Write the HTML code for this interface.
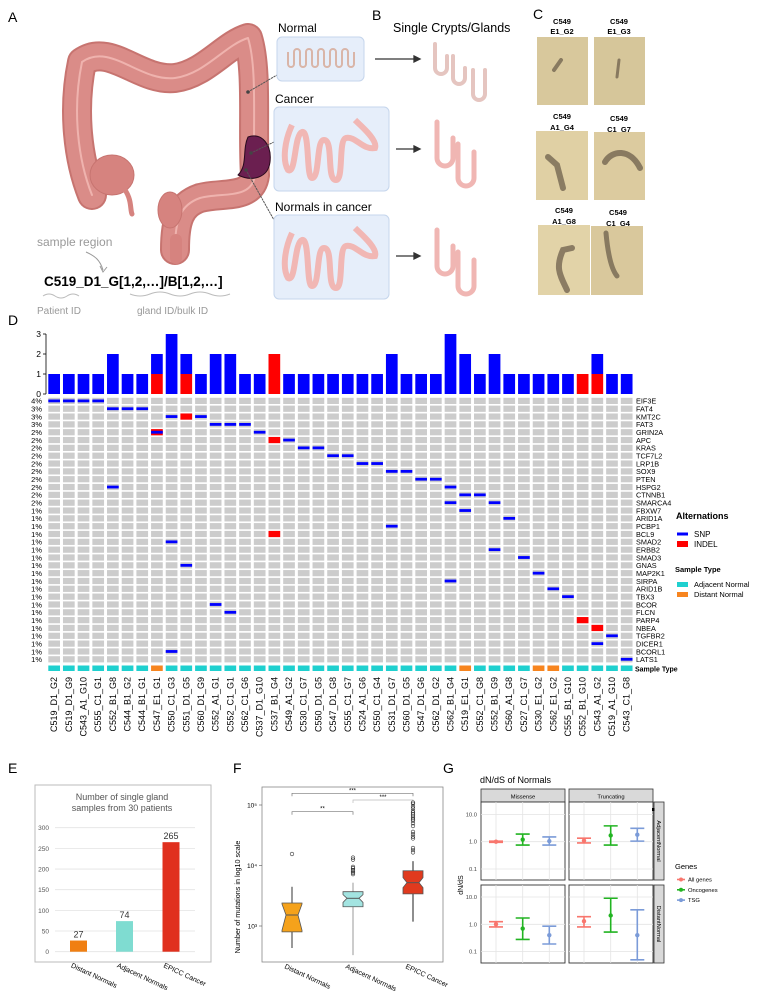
<!DOCTYPE html>
<html><head><meta charset="utf-8">
<style>
html,body{margin:0;padding:0;background:#fff;}
svg{display:block;font-family:"Liberation Sans",sans-serif;}
</style></head>
<body>
<svg id="fig" width="759" height="1000" viewBox="0 0 759 1000" xmlns="http://www.w3.org/2000/svg">
<!-- Panel labels -->
<text x="8" y="22" font-size="14">A</text>
<text x="372" y="20" font-size="14">B</text>
<text x="533" y="19" font-size="14">C</text>
<text x="8" y="325" font-size="14">D</text>
<text x="8" y="773" font-size="14">E</text>
<text x="233" y="773" font-size="14">F</text>
<text x="443" y="773" font-size="14">G</text>

<!-- Panel A: colon illustration -->
<g fill="none" stroke-linecap="round" stroke-linejoin="round">
  <path d="M92 195 C78 160 72 110 82 62 C110 42 140 82 175 78 C205 74 225 45 248 38 C258 70 252 130 255 175 C252 200 222 192 200 198 C180 205 175 220 175 250" stroke="#c77470" stroke-width="30"/>
  <path d="M92 195 C78 160 72 110 82 62 C110 42 140 82 175 78 C205 74 225 45 248 38 C258 70 252 130 255 175 C252 200 222 192 200 198 C180 205 175 220 175 250" stroke="#da8c88" stroke-width="26"/>
  <path d="M92 195 C78 160 72 110 82 62 C110 42 140 82 175 78 C205 74 225 45 248 38 C258 70 252 130 255 175 C252 200 222 192 200 198 C180 205 175 220 175 250" stroke="#efb3ae" stroke-width="2"/>
  <ellipse cx="112" cy="175" rx="22" ry="20" fill="#d6837f" stroke="#c77470"/>
  <path d="M125 190 C132 200 130 210 132 214" stroke="#d6837f" stroke-width="5"/>
  <ellipse cx="170" cy="210" rx="12" ry="18" fill="#d6837f" stroke="#c77470"/>
  <path d="M176 240 L176 258" stroke="#d6837f" stroke-width="12"/>
  <path d="M248 137 C262 132 272 145 270 162 C268 178 252 182 238 175 C248 165 242 150 248 137 Z" fill="#6b1f50" stroke="#2a0a1e" stroke-width="1"/>
  <path d="M248 92 L277 75" stroke="#555" stroke-dasharray="1.5,1.5"/>
  <circle cx="248" cy="92" r="1.8" fill="#444" stroke="none"/>
  <path d="M251 153 L274 142" stroke="#555" stroke-dasharray="1.5,1.5"/>
  <circle cx="251" cy="153" r="1.8" fill="#444" stroke="none"/>
  <path d="M246 170 L274 220" stroke="#555" stroke-dasharray="1.5,1.5"/>
  <circle cx="246" cy="170" r="1.8" fill="#444" stroke="none"/>
</g>
<text x="37" y="246" font-size="12" fill="#999">sample region</text>
<path d="M86 252 C95 256 100 260 103 270" fill="none" stroke="#999" stroke-width="1"/>
<path d="M100 266 L103 272 L107 267" fill="none" stroke="#999" stroke-width="1"/>
<text x="44" y="286" font-size="13.5" font-weight="bold">C519_D1_G[1,2,…]/B[1,2,…]</text>
<path d="M43 296 q6 -4 12 0 t12 0 t12 0" fill="none" stroke="#bbb"/>
<path d="M130 294 q10 4 20 0 t20 0 t20 0 t20 0 t20 0" fill="none" stroke="#bbb"/>
<text x="37" y="314" font-size="10" fill="#999">Patient ID</text>
<text x="137" y="314" font-size="10" fill="#999">gland ID/bulk ID</text>

<!-- Sample boxes -->
<text x="278" y="32" font-size="12">Normal</text>
<rect x="277" y="37" width="87" height="44" rx="5" fill="#e6eefa" stroke="#c5d5ec"/>
<path d="M288 52 v12 a3 3 0 0 0 6 0 v-12 a3 3 0 0 1 6 0 v12 a3 3 0 0 0 6 0 v-12 a3 3 0 0 1 6 0 v12 a3 3 0 0 0 6 0 v-12 a3 3 0 0 1 6 0 v12 a3 3 0 0 0 6 0 v-12 a3 3 0 0 1 6 0 v12 a3 3 0 0 0 6 0 v-12 a3 3 0 0 1 6 0 v12 a3 3 0 0 0 6 0 v-12" fill="none" stroke="#d9b5a8" stroke-width="2"/>
<text x="275" y="103" font-size="12">Cancer</text>
<rect x="274" y="107" width="115" height="84" rx="5" fill="#e6eefa" stroke="#c5d5ec"/>
<path d="M292 125 C285 140 282 160 288 170 C296 175 294 135 302 132 C310 130 306 178 312 178 C320 178 316 140 324 140 C334 140 326 180 336 180 C344 180 338 140 346 138 C356 136 362 150 375 148 C378 140 360 125 355 120" fill="none" stroke="#f1b7b4" stroke-width="6"/>
<text x="275" y="211" font-size="12">Normals in cancer</text>
<rect x="274" y="215" width="115" height="84" rx="5" fill="#e6eefa" stroke="#c5d5ec"/>
<path d="M292 233 C285 248 282 268 288 278 C296 283 294 243 302 240 C310 238 306 286 312 286 C320 286 316 248 324 248 C334 248 326 288 336 288 C344 288 338 248 346 246 C356 244 362 258 375 256 C378 248 360 233 355 228" fill="none" stroke="#f1b7b4" stroke-width="6"/>

<!-- Panel B -->
<text x="393" y="32" font-size="12.5">Single Crypts/Glands</text>
<g stroke="#333" stroke-width="1.3">
<line x1="375" y1="59" x2="416" y2="59"/><path d="M414 56 L420 59 L414 62Z" fill="#333"/>
<line x1="396" y1="149" x2="416" y2="149"/><path d="M414 146 L420 149 L414 152Z" fill="#333"/>
<line x1="396" y1="256" x2="416" y2="256"/><path d="M414 253 L420 256 L414 259Z" fill="#333"/>
</g>
<g fill="none" stroke-linecap="round">
<path d="M435 44 v24 a6 6 0 0 0 12 0 v-12 M453 56 v22 a6 6 0 0 0 12 0 v-10 M473 70 v24 a6 6 0 0 0 12 0 v-24" stroke="#e5c5c0" stroke-width="4"/>
<path d="M437 122 v36 a8 8 0 0 0 16 0 v-20 M458 144 v34 a8 8 0 0 0 16 0 v-26" stroke="#f0b6b3" stroke-width="5"/>
<path d="M437 230 v36 a8 8 0 0 0 16 0 v-20 M458 252 v34 a8 8 0 0 0 16 0 v-26" stroke="#f0b6b3" stroke-width="5"/>
</g>

<!-- Panel C photos -->
<g font-size="7.5" font-weight="bold" text-anchor="middle">
<text x="562" y="24">C549</text><text x="562" y="34">E1_G2</text>
<text x="619" y="24">C549</text><text x="619" y="34">E1_G3</text>
<text x="562" y="119">C549</text><text x="562" y="130">A1_G4</text>
<text x="619" y="121">C549</text><text x="619" y="132">C1_G7</text>
<text x="564" y="213">C549</text><text x="564" y="224">A1_G8</text>
<text x="618" y="215">C549</text><text x="618" y="226">C1_G4</text>
</g>
<g>
<rect x="537" y="37" width="51" height="68" fill="#d8c89c"/>
<rect x="594" y="37" width="51" height="68" fill="#d6c69a"/>
<rect x="536" y="131" width="52" height="69" fill="#e0d0a4"/>
<rect x="594" y="132" width="51" height="68" fill="#dccb9f"/>
<rect x="538" y="225" width="52" height="70" fill="#e2d3a8"/>
<rect x="591" y="226" width="52" height="69" fill="#d9c89c"/>
<g fill="none" stroke="#6e604c" stroke-linecap="round" opacity="0.75">
<path d="M554 70 L561 60" stroke-width="4"/>
<path d="M619 60 L617 77" stroke-width="3"/>
<path d="M548 157 L557 165 L563 188" stroke-width="6"/>
<path d="M605 162 C612 150 630 148 640 168" stroke-width="6"/>
<path d="M567 290 C560 275 555 268 563 250 L572 248" stroke-width="6"/>
<path d="M606 233 C608 255 612 270 617 276" stroke-width="5"/>
</g>
</g>

<g id="onco"></g>
<g id="panelE"></g>
<g id="panelF"></g>
<g id="panelG"></g>
</svg>

<script>
// ---------- Panel D data ----------
const samples = ["C519_D1_G2","C519_D1_G9","C543_A1_G10","C555_C1_G1","C552_B1_G8","C544_B1_G2","C544_B1_G1","C547_E1_G1","C550_C1_G3","C551_D1_G5","C560_D1_G9","C552_A1_G1","C552_C1_G1","C562_C1_G6","C537_D1_G10","C537_B1_G4","C549_A1_G2","C530_C1_G7","C550_D1_G5","C547_D1_G8","C555_C1_G7","C524_A1_G6","C550_C1_G4","C531_D1_G7","C560_D1_G5","C547_D1_G6","C562_D1_G2","C562_B1_G4","C519_E1_G1","C552_C1_G8","C552_B1_G9","C560_A1_G8","C527_C1_G7","C530_E1_G2","C562_E1_G2","C555_B1_G10","C552_B1_G10","C543_A1_G2","C519_A1_G10","C543_C1_G8"];
const sampleTypes = ["A","A","A","A","A","A","A","D","A","A","A","A","A","A","A","A","A","A","A","A","A","A","A","A","A","A","A","A","D","A","A","A","A","D","D","A","A","A","A","A"];
const genes = ["EIF3E","FAT4","KMT2C","FAT3","GRIN2A","APC","KRAS","TCF7L2","LRP1B","SOX9","PTEN","HSPG2","CTNNB1","SMARCA4","FBXW7","ARID1A","PCBP1","BCL9","SMAD2","ERBB2","SMAD3","GNAS","MAP2K1","SIRPA","ARID1B","TBX3","BCOR","FLCN","PARP4","NBEA","TGFBR2","DICER1","BCORL1","LATS1"];
const genePcts = ["4%","3%","3%","3%","2%","2%","2%","2%","2%","2%","2%","2%","2%","2%","1%","1%","1%","1%","1%","1%","1%","1%","1%","1%","1%","1%","1%","1%","1%","1%","1%","1%","1%","1%"];
const mutSample = [0,1,2,3,4,4,5,6,7,7,8,8,8,9,9,10,11,11,12,12,13,14,15,15,16,17,18,19,20,21,22,23,23,24,25,26,27,27,27,28,28,29,30,30,31,32,33,34,35,36,37,37,38,39];
const mutGene   = [0,0,0,0,1,11,1,1,4,4,2,18,32,2,21,2,3,26,3,27,3,4,5,17,5,6,6,7,7,8,8,9,16,9,10,10,11,13,23,12,14,12,13,19,15,20,22,24,25,28,29,31,30,33];
const mutType   = ["S","S","S","S","S","S","S","S","I","S","S","S","S","I","S","S","S","S","S","S","S","S","I","I","S","S","S","S","S","S","S","S","S","S","S","S","S","S","S","S","S","S","S","S","S","S","S","S","S","I","I","S","S","S"];
const barTicks = [0,1,2,3];

// ---------- Panel E data ----------
const eCats = ["Distant Normals","Adjacent Normals","EPICC Cancer"];
const eVals = [27,74,265];
const eTicks = [0,50,100,150,200,250,300];

// ---------- Panel F data ----------
const fCats = ["Distant Normals","Adjacent Normals","EPICC Cancer"];
const fLowW = [433,330,1180];
const fQ1 = [800,2080,3400];
const fMed = [1520,2870,5200];
const fQ3 = [2400,3690,8200];
const fHighW = [4450,5200,11800];
const fNotchLo = [850,2450,4300];
const fNotchHi = [2300,3300,6300];
const fOutDistant = [15500];
const fOutAdjacent = [7200,7600,8000,8400,9000,9500,12500,13500];
const fOutCancer = [16500,18000,19500,28000,30000,33000,36000,45000,50000,55000,58000,62000,66000,70000,75000,80000,88000,95000,105000,110000];
const fTicks = [1000,10000,100000];
const fTickLabels = ["10³","10⁴","10⁵"];

// ---------- Panel G data ----------
const gFacetsCol = ["Missense","Truncating"];
const gFacetsRow = ["AdjacentNormal","DistantNormal"];
const gGenes = ["All genes","Oncogenes","TSG"];
// order: [row][col][gene]
const gEst = [[[1.0,1.2,1.05],[1.1,1.7,1.8]],[[1.0,0.7,0.4],[1.3,2.1,0.4]]];
const gLo  = [[[0.95,0.75,0.75],[0.9,0.75,1.05]],[[0.8,0.28,0.19],[0.8,0.52,0.05]]];
const gHi  = [[[1.05,1.9,1.5],[1.35,3.8,3.1]],[[1.25,1.7,0.85],[1.9,9.0,3.4]]];
const gTicks = [0.1,1,10];
const gTickLabels = ["0.1","1.0","10.0"];

const NS = "http://www.w3.org/2000/svg";
function mk(parent, tag, attrs, text){
  const e = document.createElementNS(NS, tag);
  for (const k in attrs) e.setAttribute(k, attrs[k]);
  if (text !== undefined) e.textContent = text;
  parent.appendChild(e);
  return e;
}

// ===== Panel D =====
(function(){
  const g = document.getElementById('onco');
  const x0 = 48.3, pitch = 14.68, cw = 11.7;
  const xCol = i => x0 + i*pitch;
  const y0 = 397.8, rp = 7.83, ch = 6.2;
  const yRow = r => y0 + r*rp;
  const base = 394, unit = 20;
  const yBar = v => base - v*unit;

  // axis
  let ax = mk(g,'line',{x1:46,y1:yBar(3),x2:46,y2:base,stroke:'#000','stroke-width':0.8});
  
  
  barTicks.forEach(t=>{
    mk(g,'line',{x1:43,x2:46,y1:yBar(t),y2:yBar(t),stroke:'#000','stroke-width':0.8});
    const tl = mk(g,'text',{x:41,y:yBar(t)+3,'font-size':8.5,'text-anchor':'end'}, String(t));
    
    
  });
  mk(g,'line',{x1:46,x2:xCol(samples.length-1)+cw,y1:base,y2:base,stroke:'#fff','stroke-width':0});

  // counts
  const snp = samples.map(()=>0), ind = samples.map(()=>0);
  mutSample.forEach((s,k)=>{ if(mutType[k]==='S') snp[s]++; else ind[s]++; });

  samples.forEach((s,i)=>{
    const x = xCol(i);
    if (ind[i]>0){
      const r = mk(g,'rect',{x:x,y:yBar(ind[i]),width:cw,height:ind[i]*unit,fill:'#ff0000'});
      
      
    }
    if (snp[i]>0){
      const r = mk(g,'rect',{x:x,y:yBar(ind[i]+snp[i]),width:cw,height:snp[i]*unit,fill:'#0000ff'});
      
      
    }
    genes.forEach((gn,r)=>{
      mk(g,'rect',{x:x,y:yRow(r),width:cw,height:ch,fill:'#cccccc'});
    });
    const st = mk(g,'rect',{x:x,y:665.5,width:cw,height:5.5,fill: sampleTypes[i]==='A' ? '#1fd0cf' : '#f7851f'});
    
    
    const xc = x + cw/2 + 3;
    const lbl = mk(g,'text',{x:xc,y:677,'font-size':9,'text-anchor':'end',transform:`rotate(-90 ${xc} 677)`}, s);
    
    
  });
  // mutations: indels first, then snps on top
  ['I','S'].forEach(tp=>{
    mutSample.forEach((s,k)=>{
      if (mutType[k]!==tp) return;
      const x = xCol(s), y = yRow(mutGene[k]);
      let m;
      if (tp==='I') m = mk(g,'rect',{x:x,y:y,width:cw,height:ch,fill:'#ff0000'});
      else m = mk(g,'rect',{x:x,y:y+ch/2-1.4,width:cw,height:2.8,fill:'#0000ff'});
      
      
    });
  });
  genes.forEach((gn,r)=>{
    const t = mk(g,'text',{x:636,y:yRow(r)+ch-0.3,'font-size':7.3}, gn);
    
    
    const p = mk(g,'text',{x:42,y:yRow(r)+ch-0.3,'font-size':7.5,'text-anchor':'end'}, genePcts[r]);
    
    
  });
  let t = mk(g,'text',{x:635,y:671.5,'font-size':7,'font-weight':'bold'},'Sample Type');
  
  
  // legend
  t = mk(g,'text',{x:676,y:519,'font-size':9,'font-weight':'bold'},'Alternations');
  
  
  mk(g,'rect',{x:677,y:532.5,width:11,height:3,fill:'#0000ff'});
  t = mk(g,'text',{x:694,y:537,'font-size':8},'SNP');
  
  
  mk(g,'rect',{x:677,y:541,width:11,height:6,fill:'#ff0000'});
  t = mk(g,'text',{x:694,y:547,'font-size':8},'INDEL');
  
  
  t = mk(g,'text',{x:675,y:572,'font-size':7.5,'font-weight':'bold'},'Sample Type');
  
  
  mk(g,'rect',{x:677,y:582,width:11,height:5,fill:'#1fd0cf'});
  t = mk(g,'text',{x:694,y:587,'font-size':7.5},'Adjacent Normal');
  
  
  mk(g,'rect',{x:677,y:592,width:11,height:5,fill:'#f7851f'});
  t = mk(g,'text',{x:694,y:597,'font-size':7.5},'Distant Normal');
  
  
})();

// ===== Panel E =====
(function(){
  const g = document.getElementById('panelE');
  mk(g,'rect',{x:35,y:785,width:176,height:177,fill:'#fff',stroke:'#bbb','stroke-width':1});
  let t = mk(g,'text',{x:122,y:800,'font-size':9,'text-anchor':'middle',fill:'#555'},'Number of single gland');
  
  
  t = mk(g,'text',{x:122,y:811,'font-size':9,'text-anchor':'middle',fill:'#555'},'samples from 30 patients');
  
  
  const y = v => 951.7 - v*0.4133;
  eTicks.forEach(v=>{
    mk(g,'line',{x1:55,x2:195,y1:y(v),y2:y(v),stroke:'#e3e3e3','stroke-width':0.8});
    const tl = mk(g,'text',{x:49,y:y(v)+2.5,'font-size':6.5,'text-anchor':'end',fill:'#555'},String(v));
    
    
  });
  const cols = ['#f07f12','#7fdcd1','#e0301e'];
  const cx = [78.5,124.5,171];
  eVals.forEach((v,i)=>{
    const b = mk(g,'rect',{x:cx[i]-8.5,y:y(v),width:17,height:v*0.4133,fill:cols[i]});
    
    
    const vl = mk(g,'text',{x:cx[i],y:y(v)-3,'font-size':9,'text-anchor':'middle',fill:'#333'},String(v));
    
    
    const cl = mk(g,'text',{x:cx[i]-8,y:967,'font-size':7,transform:`rotate(25 ${cx[i]-8} 967)`},eCats[i]);
    
    
  });
})();

// ===== Panel F =====
(function(){
  const g = document.getElementById('panelF');
  mk(g,'rect',{x:262,y:787,width:181,height:175,fill:'#fff',stroke:'#888','stroke-width':0.8});
  const y = v => 926 - (Math.log10(v)-3)*60.5;
  fTicks.forEach((v,i)=>{
    mk(g,'line',{x1:259,x2:262,y1:y(v),y2:y(v),stroke:'#555','stroke-width':0.6});
    const tl = mk(g,'text',{x:257,y:y(v)+2.5,'font-size':6.5,'text-anchor':'end'},fTickLabels[i]);
    
    
  });
  let t = mk(g,'text',{x:240,y:897,'font-size':7.2,'text-anchor':'middle',transform:'rotate(-90 240 897)'},'Number of mutations in log10 scale');
  
  
  const cx = [292,353,413];
  const fill = ['#f5a21b','#a3e4e1','#e03a1e'];
  const wc = ['#555','#aaa','#444'];
  const outs = [fOutDistant,fOutAdjacent,fOutCancer];
  const hw = 10, nw = 6;
  fCats.forEach((c,i)=>{
    const x = cx[i];
    mk(g,'line',{x1:x,x2:x,y1:y(fLowW[i]),y2:y(fQ1[i]),stroke:wc[i],'stroke-width':1.2});
    mk(g,'line',{x1:x,x2:x,y1:y(fQ3[i]),y2:y(fHighW[i]),stroke:wc[i],'stroke-width':1.2});
    const q1=y(fQ1[i]), q3=y(fQ3[i]), md=y(fMed[i]), nl=y(fNotchLo[i]), nh=y(fNotchHi[i]);
    const d = `M${x-hw} ${q3} L${x+hw} ${q3} L${x+hw} ${nh} L${x+nw} ${md} L${x+hw} ${nl} L${x+hw} ${q1} L${x-hw} ${q1} L${x-hw} ${nl} L${x-nw} ${md} L${x-hw} ${nh} Z`;
    const b = mk(g,'path',{d:d,fill:fill[i],stroke:'#555','stroke-width':0.8});
    
    
    mk(g,'line',{x1:x-nw,x2:x+nw,y1:md,y2:md,stroke:'#555','stroke-width':1});
    outs[i].forEach(v=>{
      const o = mk(g,'circle',{cx:x,cy:y(v),r:1.8,fill:'none',stroke:'#333','stroke-width':0.6});
      
      
    });
    const cl = mk(g,'text',{x:x-8,y:968,'font-size':7,transform:`rotate(25 ${x-8} 968)`},c);
    
    
  });
  const brackets = [[0,1,811.7,'**'],[0,2,793.3,'***'],[1,2,800,'***']];
  brackets.forEach(b=>{
    const col = b[3]==='**' ? '#777' : (b[0]===1 ? '#bbb' : '#777');
    mk(g,'path',{d:`M${cx[b[0]]} ${b[2]+3} L${cx[b[0]]} ${b[2]} L${cx[b[1]]} ${b[2]} L${cx[b[1]]} ${b[2]+3}`,fill:'none',stroke:col,'stroke-width':0.7});
    const sl = mk(g,'text',{x:(cx[b[0]]+cx[b[1]])/2,y:b[2]-1,'font-size':6,'text-anchor':'middle'},b[3]);
    
    
  });
})();

// ===== Panel G =====
(function(){
  const g = document.getElementById('panelG');
  let t = mk(g,'text',{x:480,y:783,'font-size':9},'dN/dS of Normals');
  
  
  const px = [481,569], pw = 84;
  const py = [802,885], ph = 78;
  const base = [841.7,924.3];
  const yv = (r,v) => base[r] - Math.log10(v)*27.3;
  const off = [15,41.7,68.3];
  const cols = ['#f8766d','#22b422','#7b9bd8'];
  gFacetsCol.forEach((c,j)=>{
    mk(g,'rect',{x:px[j],y:789,width:pw,height:13,fill:'#d9d9d9',stroke:'#333','stroke-width':0.8});
    const ft = mk(g,'text',{x:px[j]+pw/2,y:798.5,'font-size':5.8,'text-anchor':'middle'},c);
    
    
  });
  gFacetsRow.forEach((rn,r)=>{
    mk(g,'rect',{x:654,y:py[r],width:10,height:ph,fill:'#d9d9d9',stroke:'#333','stroke-width':0.8});
    const rx = 657, ry = py[r]+ph/2;
    const ft = mk(g,'text',{x:rx,y:ry,'font-size':5.8,'text-anchor':'middle',transform:`rotate(90 ${rx} ${ry})`},rn);
    
    
    gTicks.forEach((v,k)=>{
      const tl = mk(g,'text',{x:477,y:yv(r,v)+2,'font-size':5.8,'text-anchor':'end',fill:'#444'},gTickLabels[k]);
      
      
    });
    gFacetsCol.forEach((c,j)=>{
      mk(g,'rect',{x:px[j],y:py[r],width:pw,height:ph,fill:'#fff',stroke:'#333','stroke-width':0.9});
      gTicks.forEach(v=>{
        mk(g,'line',{x1:px[j],x2:px[j]+pw,y1:yv(r,v),y2:yv(r,v),stroke:'#e4e4e4','stroke-width':0.8});
      });
      off.forEach(o=>{
        mk(g,'line',{x1:px[j]+o,x2:px[j]+o,y1:py[r],y2:py[r]+ph,stroke:'#e4e4e4','stroke-width':0.8});
      });
      gGenes.forEach((gn,k)=>{
        const x = px[j]+off[k];
        const lo = yv(r,gLo[r][j][k]), hi = yv(r,gHi[r][j][k]), e = yv(r,gEst[r][j][k]);
        const eb = mk(g,'path',{d:`M${x-7} ${hi} L${x+7} ${hi} M${x} ${hi} L${x} ${lo} M${x-7} ${lo} L${x+7} ${lo}`,fill:'none',stroke:cols[k],'stroke-width':1.6});
        
        
        const pt = mk(g,'circle',{cx:x,cy:e,r:2.2,fill:cols[k]});
        
        
      });
    });
  });
  mk(g,'rect',{x:652,y:808,width:2.5,height:3,fill:'#000'});
  t = mk(g,'text',{x:463,y:885,'font-size':7,'text-anchor':'middle',transform:'rotate(-90 463 885)'},'dN/dS');
  
  
  t = mk(g,'text',{x:675,y:869,'font-size':7.5},'Genes');
  
  
  gGenes.forEach((gn,k)=>{
    const yy = 879.5 + k*10.3;
    mk(g,'line',{x1:677,x2:685,y1:yy,y2:yy,stroke:cols[k],'stroke-width':1.6});
    mk(g,'circle',{cx:681,cy:yy,r:2,fill:cols[k]});
    const lt = mk(g,'text',{x:688,y:yy+2,'font-size':5.8},gn);
    
    
  });
})();
</script>
</body></html>
